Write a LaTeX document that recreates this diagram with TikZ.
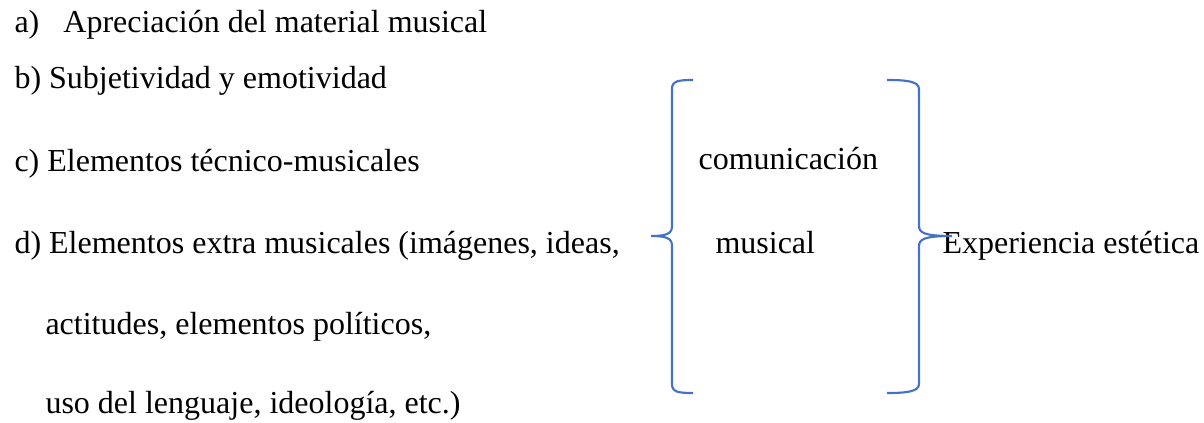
\documentclass[tikz,border=0pt]{standalone}
\usepackage{fontspec}
\setmainfont{Liberation Serif}
\usepackage{tikz}
\definecolor{braceblue}{RGB}{68,114,196}

\begin{document}
\begin{tikzpicture}[x=0.375pt,y=-0.375pt,font=\fontsize{12}{14}\selectfont,
  entry/.style={anchor=base west,inner sep=0pt},
  bracelead/.style={draw=braceblue,line width=0.8pt}]
\useasboundingbox (0,0) rectangle (1204,423);
\draw (14,33) node (itema) [entry] {a)\hspace{9pt}Apreciación del material musical};
\draw (14,89) node (itemb) [entry] {b) Subjetividad y emotividad};
\draw (14,172) node (itemc) [entry] {c) Elementos técnico-musicales};
\draw (14,253) node (itemd) [entry] {d) Elementos extra musicales (imágenes, ideas,};
\draw (45,334) node (itemd2) [entry] {actitudes, elementos políticos,};
\draw (45,413) node (itemd3) [entry] {uso del lenguaje, ideología, etc.)};
\draw (698,170) node (comun) [entry] {comunicación};
\draw (715,253) node (musical) [entry] {musical};
\draw (942,253) node (exper) [entry] {Experiencia estética};
% left brace
\draw[bracelead] (693,80) .. controls (678,80) and (672,81) .. (672,89) -- (672,226)
  .. controls (672,233) and (668,236) .. (651,236) .. controls (668,236) and (672,239) .. (672,246)
  -- (672,384) .. controls (672,392) and (678,393) .. (693,393);
% right brace
\draw[bracelead] (887,80) .. controls (905,80) and (919,81) .. (919,89) -- (919,226)
  .. controls (919,233) and (925,236) .. (952,236) .. controls (925,236) and (919,239) .. (919,246)
  -- (919,384) .. controls (919,392) and (905,393) .. (887,393);
\end{tikzpicture}
\end{document}
